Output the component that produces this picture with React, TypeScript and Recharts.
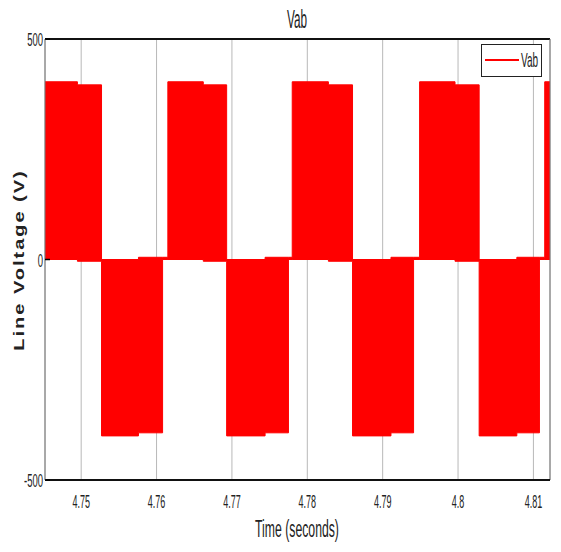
import { Area, AreaChart, CartesianGrid, Legend, ReferenceLine, XAxis, YAxis } from "recharts";

// PWM blocks of the line voltage
const segStart = [
  4.7452, 4.7495, 4.7527, 4.7576, 4.7608, 4.7615, 4.7662, 4.7693, 4.7744, 4.7775, 4.778,
  4.7828, 4.786, 4.7911, 4.7941, 4.7949, 4.7996, 4.8028, 4.8078, 4.8108, 4.8115
];
const segEnd = [
  4.7495, 4.7527, 4.7576, 4.7608, 4.7615, 4.7662, 4.7693, 4.7744, 4.7775, 4.778, 4.7828,
  4.786, 4.7911, 4.7941, 4.7949, 4.7996, 4.8028, 4.8078, 4.8108, 4.8115, 4.8122
];
const segLow = [0, -4, -400, -393, 0, 0, -4, -400, -393, 0, 0, -4, -400, -393, 0, 0, -4, -400, -393, 0, 0];
const segHigh = [403, 396, 0, 5, 5, 403, 396, 0, 5, 5, 403, 396, 0, 5, 5, 403, 396, 0, 5, 5, 403];

const timeTicks = [4.75, 4.76, 4.77, 4.78, 4.79, 4.8, 4.81];
const voltTicks = [-500, 0, 500];
const timeDomain: [number, number] = [4.7452, 4.8122];

const data = segStart.flatMap((t, i) => [
  { t, range: [segLow[i], segHigh[i]] },
  { t: segEnd[i], range: [segLow[i], segHigh[i]] }
]);

const FONT = "'Liberation Sans', Arial, sans-serif";

function TimeTick({ x, y, payload }: any) {
  return (
    <text
      transform={`translate(${x},${y + 28}) scale(0.5,1)`}
      textAnchor="middle"
      fontFamily={FONT}
      fontSize={18}
      fill="#222"
    >
      {String(payload.value)}
    </text>
  );
}

function VoltTick({ x, y, payload }: any) {
  return (
    <g>
      <line x1={x + 2} x2={x + 7} y1={y} y2={y} stroke="#000" strokeWidth={1.5} />
      <text
        transform={`translate(${x},${y + 7}) scale(0.5,1)`}
        textAnchor="end"
        fontFamily={FONT}
        fontSize={19}
        fill="#222"
      >
        {String(payload.value)}
      </text>
    </g>
  );
}

function LegendBox() {
  return (
    <svg width={62} height={34} style={{ display: "block" }}>
      <rect x={0.5} y={0.5} width={60} height={32} fill="#fff" stroke="#222" strokeWidth={1} />
      <line x1={4} x2={38} y1={16} y2={16} stroke="#ff0000" strokeWidth={2} />
      <text
        transform="translate(40,23) scale(0.5,1)"
        fontFamily={FONT}
        fontSize={20}
        fill="#222"
      >
        Vab
      </text>
    </svg>
  );
}

export default function App() {
  return (
    <div style={{ position: "absolute", left: 0, top: 0, width: 561, height: 552, background: "#fff" }}>
      <AreaChart width={561} height={552} data={data} margin={{ top: 39, right: 11, left: 0, bottom: 0 }}>
        <CartesianGrid horizontal={false} stroke="#b8b8b8" />
        <CartesianGrid vertical={false} stroke="#8c8c8c" />
        <XAxis
          dataKey="t"
          type="number"
          domain={timeDomain}
          ticks={timeTicks}
          allowDataOverflow
          height={72}
          tickSize={0}
          tickMargin={0}
          tick={<TimeTick />}
          axisLine={{ stroke: "#111", strokeWidth: 2 }}
          tickLine={false}
        />
        <YAxis
          type="number"
          domain={[-500, 500]}
          ticks={voltTicks}
          width={45}
          tickSize={0}
          tickMargin={2}
          tick={<VoltTick />}
          axisLine={{ stroke: "#777" }}
          tickLine={false}
        />
        <Legend
          layout="horizontal"
          verticalAlign="middle"
          align="center"
          content={() => <LegendBox />}
          wrapperStyle={{ position: "absolute", left: 481, top: 44, width: 62, height: 34 }}
        />
        <Area
          type="linear"
          dataKey="range"
          stroke="#ff0000"
          strokeWidth={1}
          fill="#ff0000"
          fillOpacity={1}
          name="Vab"
          isAnimationActive={false}
        />
        <ReferenceLine y={500} stroke="#111" strokeWidth={2} />
        <ReferenceLine x={timeDomain[1]} stroke="#777" />
      </AreaChart>
      <svg
        width={561}
        height={552}
        style={{ position: "absolute", left: 0, top: 0, pointerEvents: "none" }}
      >
        <text transform="translate(297,28) scale(0.47,1)" textAnchor="middle" fontFamily={FONT} fontSize={25} fill="#222">
          Vab
        </text>
        <text transform="translate(297,537) scale(0.51,1)" textAnchor="middle" fontFamily={FONT} fontSize={24} fill="#222">
          Time (seconds)
        </text>
        <text
          transform="translate(24,260) scale(0.75,1) rotate(-90)"
          textAnchor="middle"
          fontFamily={FONT}
          fontSize={20}
          fontWeight="bold"
          letterSpacing={2}
          fill="#222"
        >
          Line Voltage (V)
        </text>
      </svg>
    </div>
  );
}
